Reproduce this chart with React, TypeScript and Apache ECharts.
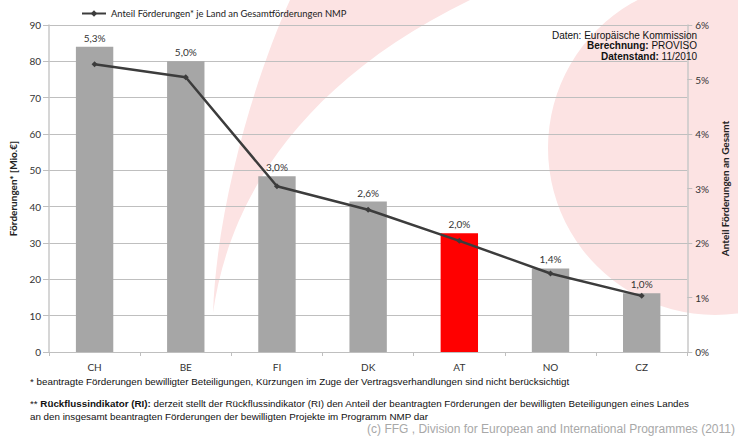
import React, { useEffect, useRef } from "react";
import * as echarts from "echarts";

const categories = ["CH", "BE", "FI", "DK", "AT", "NO", "CZ"];
const funding = [84.0, 80.0, 48.4, 41.4, 32.7, 23.0, 16.2];
const shares = [5.28, 5.04, 3.04, 2.61, 2.04, 1.44, 1.03];
const highlight = "AT";

const seriesName = "Anteil Förderungen* je Land an Gesamtförderungen NMP";
const leftAxisName = "Förderungen* [Mio.€]";
const rightAxisName = "Anteil Förderungen an Gesamt";
const sourceLines = [
  ["Daten:", " Europäische Kommission", false],
  ["Berechnung:", " PROVISO", true],
  ["Datenstand:", " 11/2010", true],
] as const;
const footnote1 = "* beantragte Förderungen bewilligter Beteiligungen, Kürzungen im Zuge der Vertragsverhandlungen sind nicht berücksichtigt";
const footnote2a = "Rückflussindikator (RI):";
const footnote2b = " derzeit stellt der Rückflussindikator (RI) den Anteil der beantragten Förderungen der bewilligten Beteiligungen eines Landes";
const footnote3 = "an den insgesamt beantragten Förderungen der bewilligten Projekte im Programm NMP dar";
const copyright = "(c) FFG , Division for European and International Programmes (2011)";

const CAL = "Lato, 'Open Sans', sans-serif";
const ARIAL = "'Liberation Sans Narrow', 'Liberation Sans', Arial, sans-serif";

echarts.graphic.registerShape(
  "crescent",
  echarts.graphic.extendPath("M290,0 C258,70 217,200 213,313 C228,205 295,85 470,0 Z", {})
);

export default function App() {
  const ref = useRef<HTMLDivElement>(null);
  useEffect(() => {
    if (!ref.current) return;
    const chart = echarts.init(ref.current, null, { renderer: "svg" });
    const pink = "#fce3e3";
    const sourceTexts = sourceLines.map((l, i) => ({
      type: "text",
      right: 41,
      top: 30 + i * 10.5,
      z: 10,
      style: {
        text: (l[2] ? "{b|" + l[0] + "}" : l[0]) + l[1],
        fontFamily: ARIAL,
        fontSize: 10,
        fill: "#111",
        rich: { b: { fontWeight: "bold", fontFamily: ARIAL, fontSize: 10 } },
      },
    }));
    chart.setOption({
      animation: false,
      backgroundColor: "#ffffff",
      textStyle: { fontFamily: CAL },
      legend: {
        data: [seriesName],
        left: 76,
        top: 4,
        itemWidth: 24,
        itemHeight: 8,
        itemGap: 2,
        textStyle: { fontFamily: CAL, fontSize: 9.4, color: "#222" },
      },
      grid: { left: 47, right: 37, top: 25, bottom: 86 },
      xAxis: {
        type: "category",
        data: categories,
        axisLine: { lineStyle: { color: "#bfbfbf", width: 1 } },
        axisTick: { show: true, alignWithLabel: false, length: 4, lineStyle: { color: "#bfbfbf" } },
        axisLabel: { fontFamily: CAL, fontSize: 10, color: "#333", margin: 10 },
      },
      yAxis: [
        {
          type: "value",
          min: 0,
          max: 90,
          interval: 10,
          name: leftAxisName,
          nameLocation: "middle",
          nameRotate: 90,
          nameGap: 31,
          nameTextStyle: { fontFamily: CAL, fontSize: 10, fontWeight: "bold", color: "#222" },
          axisLine: { show: true, lineStyle: { color: "#c8c8c8", width: 1.5 } },
          axisTick: { show: true, length: 6, lineStyle: { color: "#bfbfbf" } },
          axisLabel: { fontFamily: CAL, fontSize: 10, color: "#333", margin: 8 },
          splitLine: { show: true, lineStyle: { color: "#bfbfbf", width: 1 } },
        },
        {
          type: "value",
          min: 0,
          max: 6,
          interval: 1,
          position: "right",
          name: rightAxisName,
          nameLocation: "middle",
          nameRotate: 90,
          nameGap: 30,
          nameTextStyle: { fontFamily: CAL, fontSize: 10, fontWeight: "bold", color: "#222" },
          axisLine: { show: true, lineStyle: { color: "#c8c8c8", width: 1.5 } },
          axisTick: { show: true, length: 5, lineStyle: { color: "#bfbfbf" } },
          axisLabel: { fontFamily: CAL, fontSize: 10, color: "#333", margin: 8, formatter: "{value}%" },
          splitLine: { show: false },
        },
      ],
      series: [
        {
          type: "bar",
          name: "Förderungen",
          yAxisIndex: 0,
          barWidth: "41%",
          data: funding.map((v, i) => ({
            value: v,
            itemStyle: { color: categories[i] === highlight ? "#ff0000" : "#a6a6a6" },
          })),
          label: {
            show: true,
            position: "top",
            distance: 4,
            fontFamily: CAL,
            fontSize: 10,
            color: "#333",
            formatter: (p: any) => shares[p.dataIndex].toFixed(1).replace(".", ",") + "%",
          },
          z: 2,
        },
        {
          type: "line",
          name: seriesName,
          yAxisIndex: 1,
          data: shares,
          symbol: "diamond",
          symbolSize: 6,
          lineStyle: { color: "#3c3c3c", width: 2.5 },
          itemStyle: { color: "#3c3c3c" },
          z: 3,
        },
      ],
      graphic: [
        { type: "crescent", x: 0, y: 0, z: -10, silent: true, style: { fill: pink } },
        { type: "circle", z: -10, silent: true, shape: { cx: 715, cy: 148, r: 167 }, style: { fill: pink } },
        ...sourceTexts,
        {
          type: "text",
          left: 30,
          top: 376,
          style: { text: footnote1, fontFamily: ARIAL, fontSize: 9.8, fill: "#111" },
        },
        {
          type: "text",
          left: 30,
          top: 397,
          style: {
            text: "** {b|" + footnote2a + "}" + footnote2b + "\n" + footnote3,
            fontFamily: ARIAL,
            fontSize: 9.8,
            lineHeight: 13,
            fill: "#111",
            rich: { b: { fontWeight: "bold", fontFamily: ARIAL, fontSize: 9.8, lineHeight: 13 } },
          },
        },
        {
          type: "text",
          right: 3,
          top: 423,
          style: { text: copyright, fontFamily: "'Liberation Sans', Arial, sans-serif", fontSize: 12, fill: "#a8a8a8" },
        },
      ],
    });
    return () => chart.dispose();
  }, []);
  return <div ref={ref} style={{ width: 738, height: 438, position: "absolute", left: 0, top: 0 }} />;
}
